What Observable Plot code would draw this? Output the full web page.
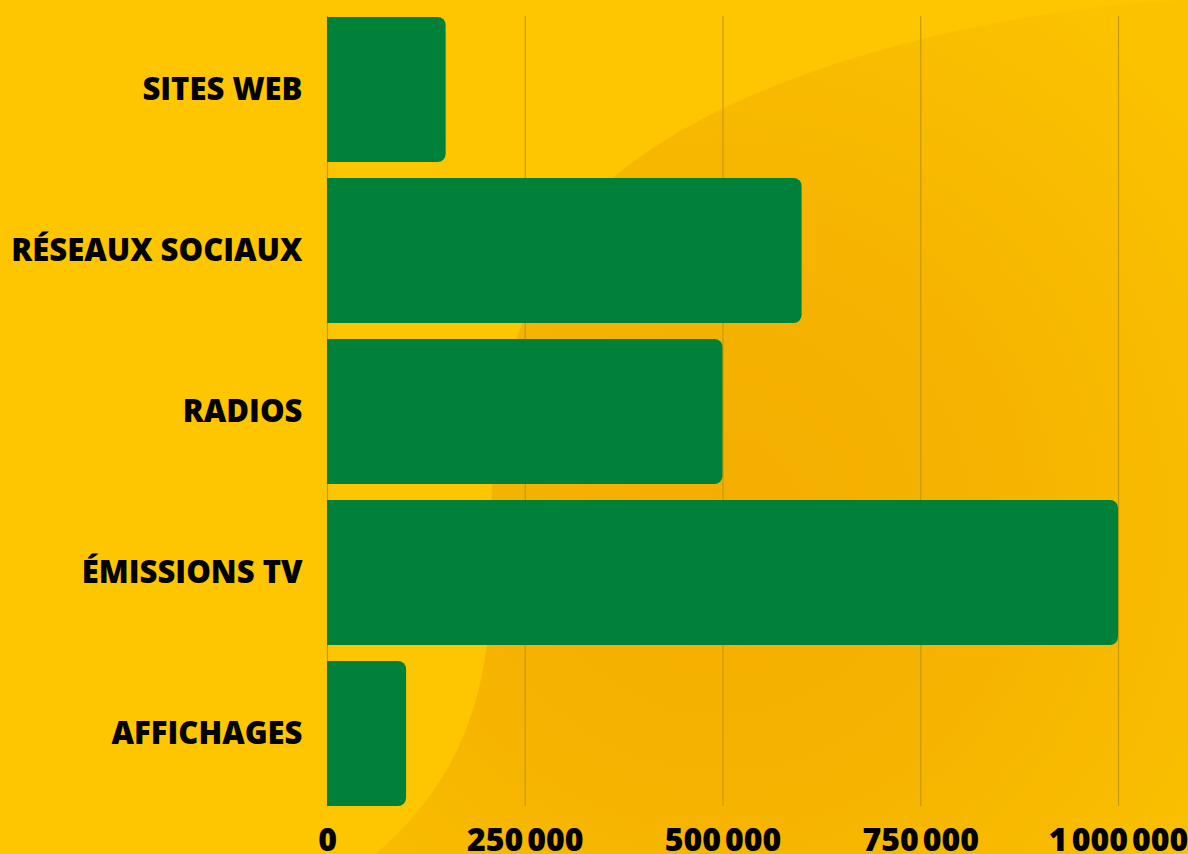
<!DOCTYPE html>
<html>
<head>
<meta charset="utf-8">
<script src="https://cdn.jsdelivr.net/npm/d3@7"></script>
<script src="https://cdn.jsdelivr.net/npm/@observablehq/plot@0.6"></script>
<style>
  html, body { margin: 0; padding: 0; background: #FDC600; }
  #wrap { position: relative; width: 1188px; height: 854px; overflow: hidden; }
  #blob {
    position: absolute; left: 0; top: 0; width: 1188px; height: 854px;
    background: radial-gradient(ellipse 620px 620px at 720px 520px, #F4AE00 0%, #F6B300 45%, #FBC200 100%);
    clip-path: path('M 1188 0 C 1000 8, 730 70, 605 185 C 505 290, 488 430, 490 590 C 490 720, 440 800, 375 854 L 1188 854 Z');
  }
  #chart { position: absolute; left: 0; top: 0; }
  #chart svg { background: transparent !important; overflow: visible; }
</style>
</head>
<body>
<div id="wrap"><div id="blob"></div><div id="chart"></div></div>
<script>
const categories = ["SITES WEB", "RÉSEAUX SOCIAUX", "RADIOS", "ÉMISSIONS TV", "AFFICHAGES"];
const values = [150000, 600000, 500000, 1000000, 100000];
const xTicks = [0, 250000, 500000, 750000, 1000000];

const data = categories.map((c, i) => ({category: c, value: values[i]}));
const fmt = d => d3.format(",")(d).replace(/,/g, "\u202F");

const perCorner = Plot.version && (() => {
  const [a, b, c] = Plot.version.split(".").map(Number);
  return a > 0 || b > 6 || (b === 6 && c >= 12);
})();

const barOpts = {y: "category", x: "value", fill: "#00813A"};
if (perCorner) barOpts.rx2 = 8; else barOpts.rx = 8;

const chart = Plot.plot({
  width: 1188,
  height: 854,
  marginLeft: 327,
  marginRight: 70,
  marginTop: 16,
  marginBottom: 48,
  style: {background: "transparent", fontFamily: "'Open Sans', sans-serif", fontSize: "31px", fontWeight: 800, color: "#000"},
  x: {domain: [0, 1000000], ticks: xTicks, tickFormat: fmt, tickSize: 0, tickPadding: 22, label: null},
  y: {domain: categories, paddingInner: 0.1, paddingOuter: 0, tickSize: 0, tickPadding: 25, label: null},
  marks: [
    Plot.ruleX(xTicks, {stroke: "#C49A00", strokeWidth: 1.2, strokeOpacity: 1}),
    Plot.barX(data, barOpts),
    Plot.axisX({ticks: xTicks, tickFormat: fmt, tickSize: 0, tickPadding: 22, fontSize: 32, fontWeight: 800, fill: "#000", label: null}),
    Plot.axisY({tickSize: 0, tickPadding: 25, fontSize: 31, fontWeight: 800, fill: "#000", label: null})
  ]
});
document.getElementById("chart").appendChild(chart);
</script>
</body>
</html>
